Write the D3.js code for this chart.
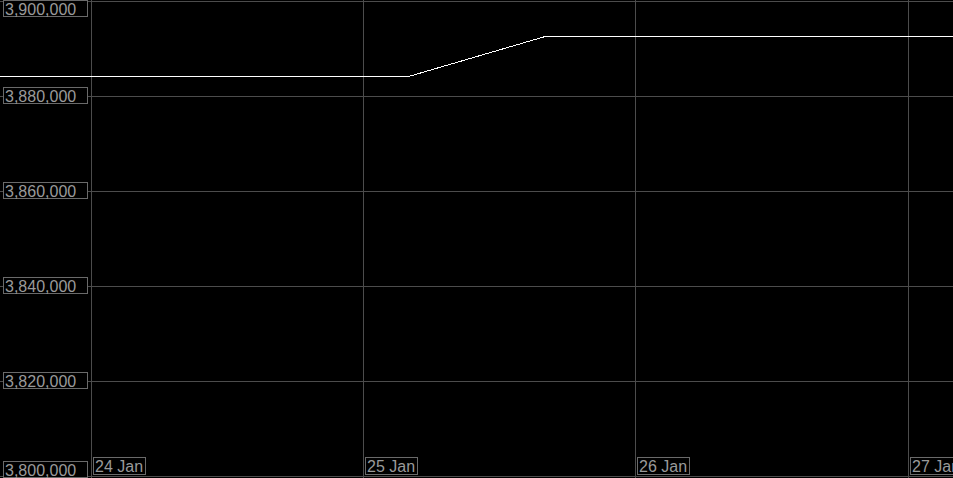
<!DOCTYPE html>
<html>
<head>
<meta charset="utf-8">
<script src="https://cdn.jsdelivr.net/npm/d3@7"></script>
<style>
  html, body { margin: 0; padding: 0; background: #000; overflow: hidden; }
  svg { display: block; }
  text { font-family: "Liberation Sans", Arial, sans-serif; font-size: 16px; fill: #9a9a9a; }
</style>
</head>
<body>
<div id="root"></div>
<script>
const width = 953;
const height = 478;

// series: timestamps and values
const times = [
    '2024-01-23T16:00', '2024-01-24T04:00', '2024-01-24T16:00', '2024-01-25T04:00',
    '2024-01-25T16:10', '2024-01-26T04:00', '2024-01-26T16:00', '2024-01-27T04:00'
];
const values = [3884100, 3884100, 3884100, 3884100, 3892600, 3892600, 3892600, 3892600];
const yTicks = [3800000, 3820000, 3840000, 3860000, 3880000, 3900000];
const xTicks = ['2024-01-24', '2024-01-25', '2024-01-26', '2024-01-27'];

const parse = d3.timeParse('%Y-%m-%dT%H:%M');
const parseDay = d3.timeParse('%Y-%m-%d');
const data = times.map((t, i) => ({date: parse(t), value: values[i]}));
const xTickDates = xTicks.map(parseDay);

const x = d3.scaleTime()
    .domain([data[0].date, data[data.length - 1].date])
    .range([0, width]);
const y = d3.scaleLinear()
    .domain([3800000, 3900000])
    .range([476, 1]);

const svg = d3.select('#root')
    .append('svg')
    .attr('width', width)
    .attr('height', height);

// grid lines via axes
const gridY = svg.append('g')
    .call(d3.axisLeft(y).tickValues(yTicks).tickSize(-width).tickFormat(''));
const gridX = svg.append('g')
    .call(d3.axisBottom(x).tickValues(xTickDates).tickSize(height).tickFormat(''));
[gridY, gridX].forEach(g => {
    g.select('.domain').remove();
    g.selectAll('.tick line')
        .attr('stroke', '#4c4c4c')
        .attr('shape-rendering', 'crispEdges');
});
gridY.selectAll('.tick line').attr('x1', 0).attr('x2', width);

// the series line
const line = d3.line()
    .x(d => x(d.date))
    .y(d => y(d.value));
svg.append('path')
    .datum(data)
    .attr('d', line)
    .attr('fill', 'none')
    .attr('stroke', '#fff')
    .attr('stroke-width', 1)
    .attr('shape-rendering', 'crispEdges');

// y labels in boxes
const fmt = d3.format(',');
const yLab = svg.append('g')
    .selectAll('g')
    .data(yTicks)
    .join('g')
    .attr('transform', d => {
        const top = Math.max(0.5, Math.min(height - 16.5, Math.round(y(d)) - 8.5));
        return `translate(3.5,${top})`;
    });
yLab.append('rect')
    .attr('width', 84)
    .attr('height', 16)
    .attr('fill', '#000')
    .attr('stroke', '#6a6a6a');
yLab.append('text')
    .attr('x', 1.5)
    .attr('y', 14)
    .text(d => fmt(d));

// x labels in boxes
const dayFmt = d3.timeFormat('%-d %b');
const xLab = svg.append('g')
    .selectAll('g')
    .data(xTickDates)
    .join('g')
    .attr('transform', d => `translate(${Math.round(x(d)) + 2.5},457.5)`);
xLab.append('rect')
    .attr('width', 52)
    .attr('height', 17)
    .attr('fill', '#000')
    .attr('stroke', '#6a6a6a');
xLab.append('text')
    .attr('x', 1.5)
    .attr('y', 14.5)
    .text(d => dayFmt(d));
</script>
</body>
</html>
